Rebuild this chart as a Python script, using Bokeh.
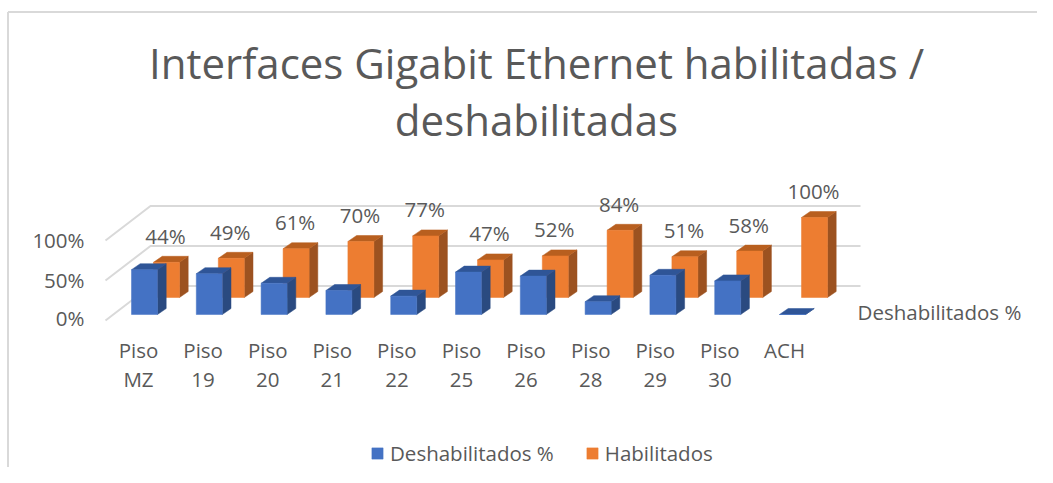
from bokeh.plotting import figure
from bokeh.models import Range1d, Legend, LegendItem, ColumnDataSource
from bokeh.core.properties import value
from bokeh.embed import file_html
from bokeh.resources import INLINE

categories = ["Piso\nMZ", "Piso\n19", "Piso\n20", "Piso\n21", "Piso\n22", "Piso\n25",
              "Piso\n26", "Piso\n28", "Piso\n29", "Piso\n30", "ACH"]
deshabilitados = [56, 51, 39, 30, 23, 53, 48, 16, 49, 42, 0]
habilitados = [44, 49, 61, 70, 77, 47, 52, 84, 51, 58, 100]
y_ticks = [0, 50, 100]
title_lines = ["Interfaces Gigabit Ethernet habilitadas /", "deshabilitadas"]
series_names = ["Deshabilitados %", "Habilitados"]

W, H = 1037, 467
PX_X, PX_Y = 64.8, 0.8
X0_REF, Y0_REF = 144, 320
def X(px): return (px - X0_REF) / PX_X
def Y(py): return (Y0_REF - py) / PX_Y

FONT = value("Open Sans")
GREY = "#595959"
LABEL_SIZE = "20.5px"

p = figure(width=W, height=H, output_backend="svg", toolbar_location=None,
           x_range=Range1d(X(0), X(W)), y_range=Range1d(Y(H), Y(0)),
           min_border=0, outline_line_color=None, background_fill_color="white")
p.axis.visible = False
p.grid.visible = False

# outer chart frame
p.line([X(7.5), X(7.5)], [Y(H), Y(11.5)], line_color="#D9D9D9", line_width=2)
p.line([X(7.5), X(W)], [Y(11.5), Y(11.5)], line_color="#D9D9D9", line_width=2)

# gridlines: floor/back wall
BACK_DX, BACK_DY = 45 / PX_X, 34.5 / PX_Y
FRONT_X, END_X = X(105), X(860)
for t in y_ticks:
    p.line([FRONT_X, FRONT_X + BACK_DX, END_X], [t, t + BACK_DY, t + BACK_DY],
           line_color="#D9D9D9", line_width=2)

BAR_W = 26 / PX_X
DEPTH_X, DEPTH_Y = 8.7 / PX_X, 6 / PX_Y

def bars(vals, x_shift, base, front, top, side):
    xs = [i + x_shift for i in range(len(vals))]
    L = [x - BAR_W / 2 for x in xs]
    R = [x + BAR_W / 2 for x in xs]
    T = [base + v for v in vals]
    p.patches([[r, r + DEPTH_X, r + DEPTH_X, r] for r in R],
              [[base, base + DEPTH_Y, t + DEPTH_Y, t] for t in T],
              fill_color=side, line_color=side, line_width=0.5)
    p.patches([[l, l + DEPTH_X, r + DEPTH_X, r] for l, r in zip(L, R)],
              [[t, t + DEPTH_Y, t + DEPTH_Y, t] for t in T],
              fill_color=top, line_color=top, line_width=0.5)
    src = ColumnDataSource(dict(left=L, right=R, top=T, bottom=[base] * len(T)))
    return p.quad(left="left", right="right", top="top", bottom="bottom", source=src,
                  fill_color=front, line_color=front, line_width=0.5)

ORANGE_DX, ORANGE_BASE = 22 / PX_X, Y(297)
BLUE_BASE = Y(314)
r_orange = bars(habilitados, ORANGE_DX, ORANGE_BASE, "#ED7D31", "#B85F1F", "#9C5220")
r_blue = bars(deshabilitados, 0, BLUE_BASE, "#4472C4", "#2F5597", "#2A4A80")

# data labels
p.text([i + ORANGE_DX - 1 / PX_X for i in range(len(habilitados))],
       [ORANGE_BASE + v + 26.5 / PX_Y for v in habilitados],
       text=[f"{v}%" for v in habilitados], text_font=FONT, text_font_size=LABEL_SIZE,
       text_color=GREY, text_align="center", text_baseline="middle")

# y-axis tick labels
p.text([X(84)] * len(y_ticks), [Y(317), Y(279), Y(239)],
       text=[f"{t}%" for t in y_ticks], text_font=FONT, text_font_size=LABEL_SIZE,
       text_color=GREY, text_align="right", text_baseline="middle")

# category labels
p.text([X(138 + 64.6 * i) for i in range(len(categories))], [Y(335)] * len(categories),
       text=categories, text_font=FONT, text_font_size=LABEL_SIZE, text_color=GREY,
       text_align="center", text_baseline="top", text_line_height=1.05)

# depth axis label
p.text([X(939)], [Y(311)], text=[series_names[0]], text_font=FONT, text_font_size=LABEL_SIZE,
       text_color=GREY, text_align="center", text_baseline="middle")

# title
p.text([X(536), X(536)], [Y(62), Y(119)], text=title_lines, text_font=FONT,
       text_font_size="42px", text_color=GREY, text_align="center", text_baseline="middle")

legend = Legend(items=[LegendItem(label=series_names[0], renderers=[r_blue]),
                       LegendItem(label=series_names[1], renderers=[r_orange])],
                orientation="horizontal", location=(370, 0), border_line_color=None,
                background_fill_alpha=0, label_text_font="Open Sans",
                label_text_font_size=LABEL_SIZE, label_text_color=GREY,
                glyph_width=14, glyph_height=14, spacing=31, padding=0, margin=0,
                label_standoff=6)
p.add_layout(legend)

open("out.html", "w").write(file_html(p, INLINE))
